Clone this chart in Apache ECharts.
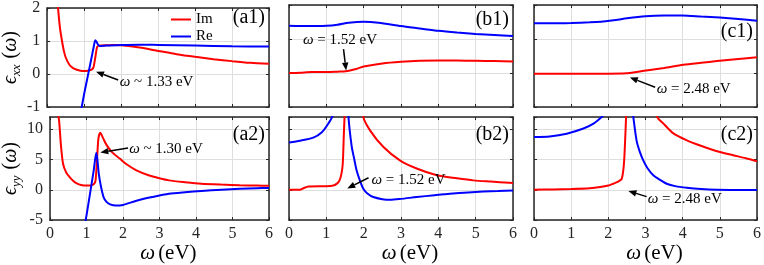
<!DOCTYPE html>
<html><head><meta charset="utf-8">
<script src="https://cdn.jsdelivr.net/npm/echarts@6/dist/echarts.min.js"></script>
<style>html,body{margin:0;padding:0;background:#fff}#c{width:764px;height:265px}</style>
</head><body><div id="c"></div>
<script>
// ---- data (omega in eV, value) ----
const xTicks = [0, 1, 2, 3, 4, 5, 6];
const yRangeXX = [-1, 2];
const yRangeYY = [-5, 12];

const a1Im = [[0.2,3.5],[0.25,2.6],[0.3,1.9],[0.35,1.35],[0.4,1.0],[0.45,0.7],[0.5,0.5],[0.6,0.28],[0.7,0.18],[0.8,0.13],[0.9,0.1],[1.0,0.09],[1.1,0.1],[1.2,0.13],[1.25,0.2],[1.3,0.5],[1.35,0.82],[1.4,0.86],[1.6,0.87],[1.8,0.88],[2.0,0.87],[2.5,0.8],[3.0,0.7],[3.5,0.6],[4.0,0.52],[4.5,0.45],[5.0,0.39],[5.5,0.34],[6.0,0.31]];
const a1Re = [[0.9,-1.2],[1.0,-0.6],[1.1,-0.05],[1.2,0.5],[1.25,0.78],[1.3,1.02],[1.33,0.98],[1.37,0.9],[1.42,0.85],[1.6,0.86],[2.0,0.88],[2.5,0.89],[3.0,0.88],[4.0,0.86],[5.0,0.84],[6.0,0.83]];

const b1Im = [[0,0.0],[0.3,0.01],[0.6,0.03],[1.0,0.03],[1.3,0.04],[1.52,0.05],[1.8,0.12],[2.0,0.19],[2.5,0.28],[3.0,0.33],[3.5,0.36],[4.0,0.37],[4.5,0.37],[5.0,0.36],[5.5,0.35],[6.0,0.34]];
const b1Re = [[0,1.39],[0.5,1.38],[1.0,1.39],[1.3,1.42],[1.6,1.48],[2.0,1.51],[2.4,1.48],[3.0,1.38],[3.5,1.31],[4.0,1.24],[4.5,1.19],[5.0,1.15],[5.5,1.12],[6.0,1.09]];

const c1Im = [[0,-0.02],[1.0,-0.02],[2.0,-0.02],[2.48,-0.01],[2.8,0.04],[3.12,0.09],[3.5,0.15],[4.02,0.24],[4.5,0.3],[4.92,0.35],[5.5,0.41],[6.0,0.46]];
const c1Re = [[0,1.46],[0.5,1.46],[1.0,1.47],[1.5,1.49],[1.8,1.51],[2.2,1.56],[2.5,1.61],[3.0,1.67],[3.5,1.69],[4.0,1.69],[4.5,1.66],[5.0,1.63],[5.5,1.59],[6.0,1.54]];

const a2Im = [[0.2,13],[0.25,11.5],[0.3,7.5],[0.36,4.3],[0.45,2.8],[0.54,2.1],[0.65,1.4],[0.75,1.0],[0.85,0.8],[1.0,0.7],[1.1,0.7],[1.2,0.9],[1.25,1.5],[1.3,6.0],[1.33,8.5],[1.38,9.4],[1.45,8.6],[1.55,7.4],[1.7,6.2],[1.92,5.1],[2.1,4.2],[2.37,3.2],[2.7,2.4],[3.0,1.9],[3.26,1.55],[3.7,1.25],[4.15,1.0],[4.7,0.85],[5.2,0.75],[5.67,0.7],[6.0,0.65]];
const a2Re = [[0.95,-6],[1.0,-4.3],[1.1,-0.6],[1.2,3.2],[1.27,6.1],[1.3,5.0],[1.34,2.6],[1.4,0.5],[1.47,-1.2],[1.55,-2.0],[1.65,-2.4],[1.8,-2.6],[2.0,-2.5],[2.37,-1.8],[2.8,-1.2],[3.26,-0.65],[3.7,-0.4],[4.15,-0.2],[4.7,0.0],[5.2,0.15],[5.67,0.25],[6.0,0.3]];

const b2Im = [[0,0.0],[0.29,0.0],[0.4,0.3],[0.52,0.55],[0.8,0.6],[1.0,0.6],[1.19,0.7],[1.3,1.1],[1.35,1.5],[1.4,2.5],[1.44,4.3],[1.47,9.3],[1.5,14],[1.6,30],[1.85,30],[1.99,12.1],[2.17,9.8],[2.53,7.05],[2.97,4.85],[3.42,3.5],[3.96,2.4],[4.5,1.9],[4.94,1.55],[5.4,1.35],[5.9,1.15],[6.0,1.1]];
const b2Re = [[0,7.8],[0.3,8.1],[0.65,8.6],[0.88,9.5],[1.05,10.9],[1.17,12.3],[1.3,25],[1.5,25],[1.59,12.3],[1.68,7.1],[1.75,5.0],[1.81,3.2],[1.9,1.5],[1.99,0.17],[2.1,-0.6],[2.26,-1.2],[2.5,-1.55],[2.71,-1.65],[3.0,-1.5],[3.42,-1.2],[3.9,-0.9],[4.31,-0.66],[4.8,-0.45],[5.2,-0.3],[5.6,-0.2],[6.0,-0.1]];

const c2Im = [[0,0.0],[0.5,0.05],[1.0,0.12],[1.5,0.25],[1.78,0.44],[2.0,0.7],[2.13,1.0],[2.25,1.3],[2.36,1.8],[2.42,4.3],[2.46,9.3],[2.5,15],[2.7,30],[3.1,30],[3.3,12.2],[3.5,10.8],[3.75,9.3],[4.1,8.2],[4.47,7.3],[4.9,6.4],[5.36,5.7],[5.7,5.2],[6.0,4.7]];
const c2Re = [[0,8.7],[0.42,8.8],[0.88,9.25],[1.33,10.1],[1.6,10.9],[1.82,12.0],[1.9,12.6],[2.1,20],[2.5,20],[2.67,12.1],[2.76,8.1],[2.85,6.2],[2.94,4.85],[3.05,3.6],[3.21,2.4],[3.4,1.6],[3.57,1.0],[3.8,0.6],[4.11,0.33],[4.5,0.12],[4.92,0.0],[5.5,-0.04],[6.0,-0.05]];

const panelIm = [a1Im, b1Im, c1Im, a2Im, b2Im, c2Im];
const panelRe = [a1Re, b1Re, c1Re, a2Re, b2Re, c2Re];
const panelLabels = ['(a1)', '(b1)', '(c1)', '(a2)', '(b2)', '(c2)'];
const seriesNames = ['Im', 'Re'];

// annotations: panel, label, arrow tip, arrow tail, text anchor (data coordinates)
const annPanels = [0, 3, 1, 4, 2, 5];
const annTexts = ['{w|ω} ~ 1.33 eV', '{w|ω} ~ 1.30 eV', '{w|ω} = 1.52 eV', '{w|ω} = 1.52 eV', '{w|ω} = 2.48 eV', '{w|ω} = 2.48 eV'];
const annTips = [[1.32,0.07],[1.38,6.16],[1.53,0.07],[1.56,0.23],[2.58,-0.13],[2.54,-0.2]];
const annTails = [[1.92,-0.18],[2.14,6.9],[1.46,0.70],[2.13,1.98],[3.26,-0.42],[3.03,-1.13]];
const annTextAt = [[1.96,-0.24],[2.17,6.7],[0.375,0.97],[2.21,1.58],[3.30,-0.48],[3.06,-1.57]];

// ---- layout / style ----
const F = 'Liberation Serif';
const AX = '#262626';
const cols = [{left:45,width:224},{left:289,width:224},{left:534,width:223}];
const rows = [{top:5,height:102},{top:117,height:104}];
const labelDy = [13, 15, 27, 18, 18, 18];

const grids = [], xAxes = [], yAxes = [], series = [];
for (let r = 0; r < 2; r++) {
  for (let c = 0; c < 3; c++) {
    const g = r * 3 + c;
    grids.push({left: cols[c].left, width: cols[c].width, top: rows[r].top, height: rows[r].height, containLabel: false});
    const yr = r === 0 ? yRangeXX : yRangeYY;
    const yInt = r === 0 ? 1 : 5;
    xAxes.push({
      type: 'value', gridIndex: g, min: xTicks[0], max: xTicks[xTicks.length-1], interval: 1, position: 'bottom',
      axisLine: {show: true, onZero: false, lineStyle: {color: AX, width: 1.5}},
      axisTick: {show: true, inside: true, length: 3, lineStyle: {color: AX}},
      axisLabel: {show: r === 1, margin: 6, fontFamily: F, fontSize: 16, color: AX},
      splitLine: {show: true, lineStyle: {color: '#dedede', width: 1}},
      name: r === 1 ? '{w|ω} {t|(eV)}' : '', nameLocation: 'middle', nameGap: 21,
      nameTextStyle: {padding: [0,0,0,18], rich: {w: {fontFamily: F, fontSize: 21, fontStyle: 'italic', color: '#000'}, t: {fontFamily: F, fontSize: 21, color: '#000'}}}
    });
    xAxes.push({
      type: 'value', gridIndex: g, min: xTicks[0], max: xTicks[xTicks.length-1], interval: 1, position: 'top',
      axisLine: {show: true, onZero: false, lineStyle: {color: AX, width: 1.5}},
      axisTick: {show: true, inside: true, length: 3, lineStyle: {color: AX}},
      axisLabel: {show: false}, splitLine: {show: false}
    });
    yAxes.push({
      type: 'value', gridIndex: g, min: yr[0], max: yr[1], interval: yInt, position: 'left',
      axisLine: {show: true, onZero: false, lineStyle: {color: AX, width: 1.5}},
      axisTick: {show: true, inside: true, length: 3, lineStyle: {color: AX}},
      axisLabel: {show: c === 0, margin: 7, fontFamily: F, fontSize: 16, color: AX, showMaxLabel: r === 0},
      splitLine: {show: true, lineStyle: {color: '#dedede', width: 1}},
      name: c === 0 ? (r === 0 ? '{e|ϵ}{s|xx}  {n|(}{w|ω}{n|)}' : '{e|ϵ}{s|yy}  {n|(}{w|ω}{n|)}') : '',
      nameLocation: 'middle', nameRotate: 90, nameGap: 24,
      nameTextStyle: {rich: {
        e: {fontFamily: F, fontSize: 20, fontStyle: 'italic', color: '#000', lineHeight: 24},
        s: {fontFamily: F, fontSize: 13, fontStyle: 'italic', color: '#000', verticalAlign: 'bottom', lineHeight: 24},
        n: {fontFamily: F, fontSize: 20, color: '#000', lineHeight: 24},
        w: {fontFamily: F, fontSize: 20, fontStyle: 'italic', color: '#000', lineHeight: 24}
      }}
    });
    yAxes.push({
      type: 'value', gridIndex: g, min: yr[0], max: yr[1], interval: yInt, position: 'right',
      axisLine: {show: true, onZero: false, lineStyle: {color: AX, width: 1.5}},
      axisTick: {show: true, inside: true, length: 3, lineStyle: {color: AX}},
      axisLabel: {show: false}, splitLine: {show: false}
    });
    [panelIm[g], panelRe[g]].forEach((d, k) => {
      series.push({
        name: seriesNames[k], type: 'line', xAxisIndex: 2*g, yAxisIndex: 2*g, data: d,
        showSymbol: false, symbol: 'none', smooth: 0.25, clip: true,
        color: k === 0 ? '#ff0000' : '#0000ff',
        lineStyle: {width: 2, color: k === 0 ? '#ff0000' : '#0000ff'}, z: 3, animation: false
      });
    });
  }
}

const option = {
  animation: false,
  backgroundColor: '#fff',
  textStyle: {fontFamily: F},
  grid: grids, xAxis: xAxes, yAxis: yAxes, series: series,
  legend: {
    data: seriesNames, orient: 'vertical', left: 166, top: 7, itemWidth: 20, itemHeight: 2, itemGap: 2,
    icon: 'rect', textStyle: {fontFamily: F, fontSize: 15, color: '#000'}
  }
};

const chart = echarts.init(document.getElementById('c'));
chart.setOption(option);

const gfx = [];
const RICHW = {w: {fontFamily: F, fontSize: 15, fontStyle: 'italic', fill: '#000'}};
annPanels.forEach((p, i) => {
  const si = 2 * p;
  const t = chart.convertToPixel({seriesIndex: si}, annTips[i]);
  const b = chart.convertToPixel({seriesIndex: si}, annTails[i]);
  const q = chart.convertToPixel({seriesIndex: si}, annTextAt[i]);
  const ang = Math.atan2(t[1] - b[1], t[0] - b[0]);
  const L = 8, W = 3.2;
  const base = [t[0] - L * Math.cos(ang), t[1] - L * Math.sin(ang)];
  gfx.push({type: 'line', z: 100, shape: {x1: b[0], y1: b[1], x2: base[0], y2: base[1]}, style: {stroke: '#000', lineWidth: 1.5}});
  gfx.push({type: 'polygon', z: 100, shape: {points: [t, [base[0] + W * Math.sin(ang), base[1] - W * Math.cos(ang)], [base[0] - W * Math.sin(ang), base[1] + W * Math.cos(ang)]]}, style: {fill: '#000'}});
  gfx.push({type: 'text', z: 100, x: q[0], y: q[1], style: {text: annTexts[i], rich: RICHW, fontFamily: F, fontSize: 15, fill: '#000', verticalAlign: 'middle', align: 'left'}});
});
panelLabels.forEach((lab, g) => {
  const r = Math.floor(g / 3), c = g % 3;
  gfx.push({type: 'text', z: 100, x: cols[c].left + cols[c].width - 4, y: rows[r].top + labelDy[g],
    style: {text: lab, fontFamily: F, fontSize: 20, fill: '#000', align: 'right', verticalAlign: 'middle'}});
});
chart.setOption({graphic: gfx});
</script>
</body></html>
